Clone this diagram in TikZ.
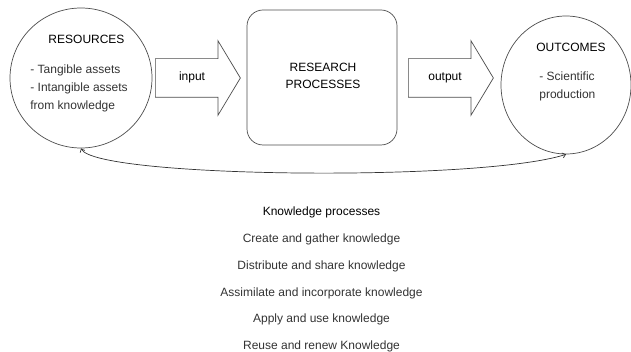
\documentclass[tikz,border=0pt]{standalone}
\usepackage{fontspec}
\setmainfont{Liberation Sans}
\usepackage{tikz}
\usetikzlibrary{calc,shapes.arrows,shapes.geometric,arrows.meta}

\begin{document}
\begin{tikzpicture}[x=1pt,y=-1pt,
		line width=0.7pt,
		every node/.style={font=\fontsize{12}{18}\selectfont},
		bubble/.style={draw=black!70,ellipse,inner sep=0pt},
		bigarrow/.style={draw=black!70,single arrow,single arrow head extend=18pt,single arrow tip angle=118,minimum height=85pt,text height=8pt,text depth=2pt,inner ysep=14pt,inner xsep=4pt,anchor=tail},
		listline/.style={anchor=base,text=black!80}]
		\useasboundingbox (0,0) rectangle (631,352);
		
		\node[bubble,minimum width=142pt,minimum height=140pt] (res) at (81,78) {};
		\node[draw=black!70,rounded corners=16pt,inner sep=0pt,minimum width=150pt,minimum height=135pt] (proc) at (322,77.5) {};
		\node[bubble,minimum width=130pt,minimum height=138pt] (outc) at (566,85) {};
		
		\node[bigarrow] (input) at (155,78) {input};
		\node[bigarrow] (output) at (408,78) {output};
		
		% base of a multi-line node = last line
		\node[anchor=base] (reshead) at (86.5,43.5) {RESOURCES};
		\node[anchor=base west,align=left,inner sep=0pt,text=black!80] (resbody) at (30,110) {- Tangible assets\\- Intangible assets\\from knowledge};
		\node[anchor=base,align=center,inner sep=0pt,font=\fontsize{12}{17}\selectfont] (prochead) at (323,88.5) {RESEARCH\\PROCESSES};
		\node[anchor=base] (outchead) at (571,51.5) {OUTCOMES};
		\node[anchor=base west,align=left,inner sep=0pt,text=black!80] (outcbody) at (539,99) {- Scientific\\production};
		
		\draw[black!80,{Straight Barb[length=3pt,width=5pt]}-{Straight Barb[length=3pt,width=5pt]}] (res.south) .. controls (95,178) and (480,182) .. (outc.south);
		
		\node[anchor=base] (kp) at (321.5,216) {Knowledge processes};
		\node[listline] (kp1) at (321.5,243) {Create and gather knowledge};
		\node[listline] (kp2) at (321.5,269.5) {Distribute and share knowledge};
		\node[listline] (kp3) at (321.5,296) {Assimilate and incorporate knowledge};
		\node[listline] (kp4) at (321.5,322.5) {Apply and use knowledge};
		\node[listline] (kp5) at (321.5,349) {Reuse and renew Knowledge};
	\end{tikzpicture}
\end{document}
